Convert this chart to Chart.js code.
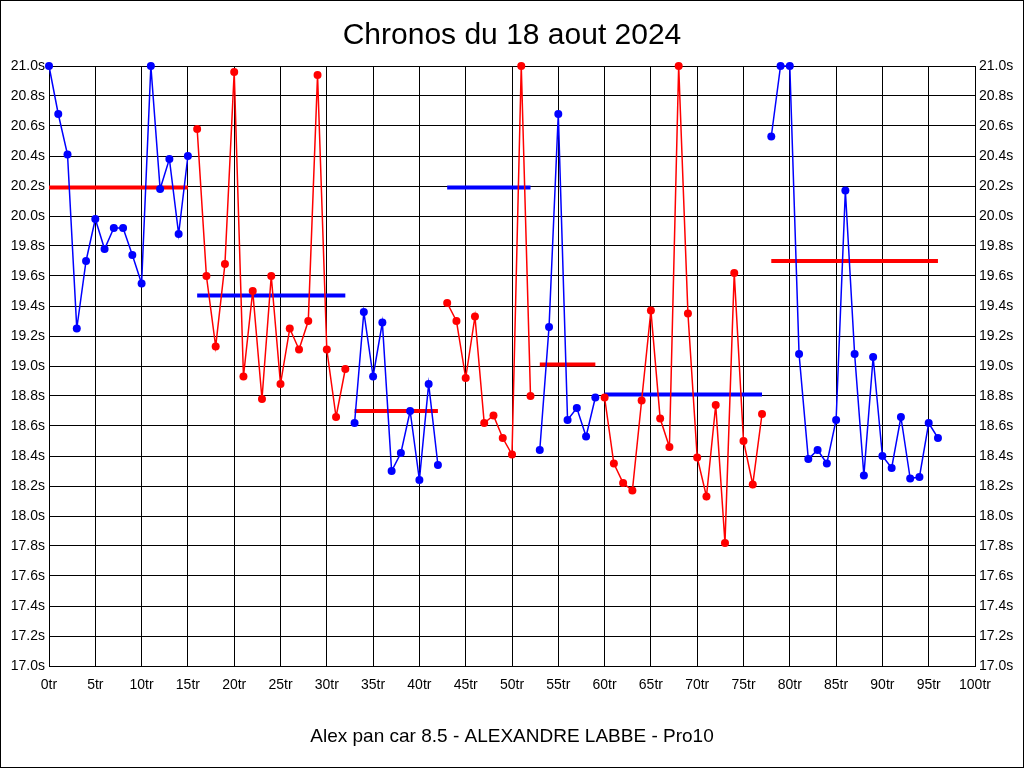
<!DOCTYPE html>
<html>
<head>
<meta charset="utf-8">
<title>Chronos du 18 aout 2024</title>
<script src="https://cdn.jsdelivr.net/npm/chart.js@4/dist/chart.umd.min.js"></script>
<style>
  html, body { margin: 0; padding: 0; background: #fff; }
  #wrap { width: 1024px; height: 768px; }
</style>
</head>
<body>
<div id="wrap"><canvas id="chronos"></canvas></div>
<script>
// Lap times (seconds), one array per run, first lap number of each run
var runStarts = [0, 16, 33, 43, 53, 60, 78];
var run1 = [21.0, 20.68, 20.41, 19.25, 19.70, 19.98, 19.78, 19.92, 19.92, 19.74, 19.55, 21.0, 20.18, 20.38, 19.88, 20.40];
var run2 = [20.58, 19.60, 19.13, 19.68, 20.96, 18.93, 19.50, 18.78, 19.60, 18.88, 19.25, 19.11, 19.30, 20.94, 19.11, 18.66, 18.98];
var run3 = [18.62, 19.36, 18.93, 19.29, 18.30, 18.42, 18.70, 18.24, 18.88, 18.34];
var run4 = [19.42, 19.30, 18.92, 19.33, 18.62, 18.67, 18.52, 18.41, 21.0, 18.80];
var run5 = [18.44, 19.26, 20.68, 18.64, 18.72, 18.53, 18.79];
var run6 = [18.79, 18.35, 18.22, 18.17, 18.77, 19.37, 18.65, 18.46, 21.0, 19.35, 18.39, 18.13, 18.74, 17.82, 19.62, 18.50, 18.21, 18.68];
var run7 = [20.53, 21.0, 21.0, 19.08, 18.38, 18.44, 18.35, 18.64, 20.17, 19.08, 18.27, 19.06, 18.40, 18.32, 18.66, 18.25, 18.26, 18.62, 18.52];
var runAverages = [20.19, 19.47, 18.70, 20.19, 19.01, 18.81, 19.70];

var runs = [run1, run2, run3, run4, run5, run6, run7];
var BLUE = '#0000ff';
var RED = '#ff0000';

var datasets = [];
runs.forEach(function (times, i) {
  var start = runStarts[i];
  var end = start + times.length - 1;
  var color = i % 2 === 0 ? BLUE : RED;
  var avgColor = i % 2 === 0 ? RED : BLUE;
  // average line for the run
  datasets.push({
    data: [{ x: start, y: runAverages[i] }, { x: end, y: runAverages[i] }],
    borderColor: avgColor,
    borderWidth: 4,
    pointRadius: 0,
    fill: false,
    clip: false,
    order: 2
  });
  // lap times
  datasets.push({
    data: times.map(function (t, k) { return { x: start + k, y: t }; }),
    borderColor: color,
    backgroundColor: color,
    borderWidth: 1.5,
    pointRadius: 4,
    pointBorderWidth: 0,
    pointBackgroundColor: color,
    fill: false,
    clip: false,
    order: 1
  });
});

var frame = {
  id: 'frame',
  beforeDraw: function (chart) {
    var c = chart.ctx;
    c.save();
    c.fillStyle = '#fff';
    c.fillRect(0, 0, chart.width, chart.height);
    c.restore();
  },
  afterDraw: function (chart) {
    var c = chart.ctx;
    c.save();
    c.strokeStyle = '#000';
    c.lineWidth = 1;
    c.strokeRect(0.5, 0.5, chart.width - 1, chart.height - 1);
    c.restore();
  }
};

var tickFont = { family: "'Liberation Sans', Arial, sans-serif", size: 14 };

new Chart(document.getElementById('chronos'), {
  type: 'line',
  data: { datasets: datasets },
  plugins: [frame],
  options: {
    responsive: true,
    maintainAspectRatio: false,
    animation: false,
    layout: { padding: 0 },
    plugins: {
      legend: { display: false },
      tooltip: { enabled: false },
      title: {
        display: true,
        text: 'Chronos du 18 aout 2024',
        color: '#000',
        font: { family: "'Liberation Sans', Arial, sans-serif", size: 30, weight: 'normal', lineHeight: 1 },
        padding: { top: 21, bottom: 15 }
      },
      subtitle: {
        display: true,
        position: 'bottom',
        text: 'Alex pan car 8.5 - ALEXANDRE LABBE - Pro10',
        color: '#000',
        font: { family: "'Liberation Sans', Arial, sans-serif", size: 19, weight: 'normal', lineHeight: 1 },
        padding: { top: 21, bottom: 22 }
      }
    },
    scales: {
      x: {
        type: 'linear',
        min: 0,
        max: 100,
        afterFit: function (s) { s.height = 40; },
        grid: { color: '#000', lineWidth: 1, drawTicks: false },
        border: { color: '#000' },
        ticks: {
          stepSize: 5,
          autoSkip: false,
          maxRotation: 0,
          padding: 11,
          color: '#000',
          font: tickFont,
          callback: function (v) { return v + 'tr'; }
        }
      },
      y: {
        position: 'left',
        min: 17,
        max: 21,
        afterFit: function (s) { s.width = 49; },
        grid: { color: '#000', lineWidth: 1, drawTicks: false },
        border: { color: '#000' },
        ticks: {
          stepSize: 0.2,
          autoSkip: false,
          padding: 4,
          color: '#000',
          font: tickFont,
          callback: function (v) { return v.toFixed(1) + 's'; }
        }
      },
      y2: {
        position: 'right',
        min: 17,
        max: 21,
        afterFit: function (s) { s.width = 49; },
        grid: { drawOnChartArea: false, drawTicks: false },
        border: { color: '#000' },
        ticks: {
          stepSize: 0.2,
          autoSkip: false,
          padding: 4,
          color: '#000',
          font: tickFont,
          callback: function (v) { return v.toFixed(1) + 's'; }
        }
      }
    }
  }
});
</script>
</body>
</html>
